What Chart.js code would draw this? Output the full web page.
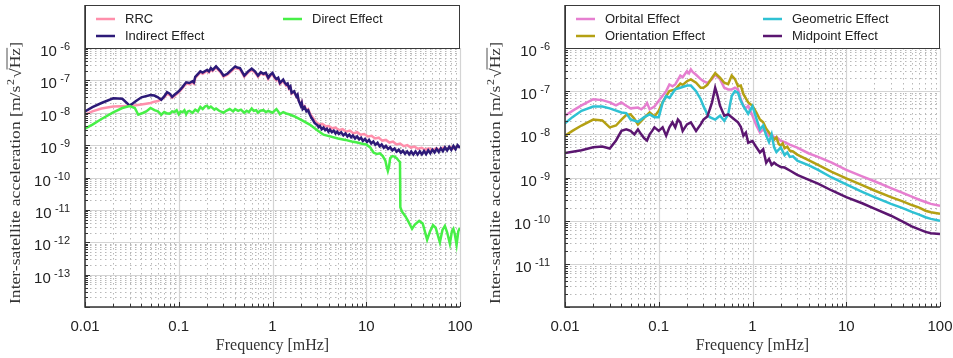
<!DOCTYPE html>
<html>
<head>
<meta charset="utf-8">
<script src="https://cdn.jsdelivr.net/npm/chart.js@4.4.1/dist/chart.umd.min.js"></script>
<style>
  body { margin: 0; background: #fff; }
  #leftChart { position: absolute; left: 0; top: 0; }
  #rightChart { position: absolute; left: 480px; top: 0; }
</style>
</head>
<body>
<canvas id="leftChart" width="476" height="358"></canvas>
<canvas id="rightChart" width="473" height="358"></canvas>
<script>
// x ticks (mHz) and y tick exponents
const xTicks = [0.01, 0.1, 1, 10, 100];
const leftYExps = [-13, -12, -11, -10, -9, -8, -7, -6];
const rightYExps = [-11, -10, -9, -8, -7, -6];

// Left panel: [frequency mHz, acceleration]
const rrcData = [
  [0.01, 8.8e-9], [0.012, 1.1e-8], [0.015, 1.35e-8], [0.02, 1.55e-8], [0.025, 1.6e-8], [0.03, 1.65e-8],
  [0.035, 1.7e-8], [0.04, 1.8e-8], [0.05, 2.0e-8], [0.055, 2.2e-8], [0.06, 2.3e-8], [0.065, 2.6e-8],
  [0.07, 3.0e-8], [0.075, 3.8e-8], [0.08, 3.6e-8], [0.085, 2.9e-8], [0.09, 3.3e-8], [0.1, 4.3e-8],
  [0.11, 5.8e-8], [0.12, 8.0e-8], [0.13, 7.6e-8], [0.14, 8.6e-8], [0.145, 7.9e-8], [0.15, 1.19e-7],
  [0.17, 1.75e-7], [0.18, 1.6e-7], [0.2, 1.95e-7], [0.21, 1.75e-7], [0.22, 2.2e-7], [0.23, 1.95e-7],
  [0.25, 2.5e-7], [0.26, 2.2e-7], [0.28, 1.75e-7], [0.3, 1.3e-7], [0.33, 1.5e-7], [0.37, 2.0e-7],
  [0.4, 2.5e-7], [0.42, 2.3e-7], [0.45, 2.2e-7], [0.5, 1.3e-7], [0.55, 1.75e-7], [0.6, 2.1e-7],
  [0.65, 1.75e-7], [0.7, 1.3e-7], [0.75, 1.65e-7], [0.8, 1.5e-7], [0.85, 1.55e-7], [0.9, 1.1e-7],
  [0.95, 1.4e-7], [1.0, 1.55e-7], [1.05, 1.2e-7], [1.1, 1.0e-7], [1.15, 1.1e-7], [1.2, 7.7e-8],
  [1.3, 9.7e-8], [1.35, 7.8e-8], [1.4, 6.8e-8], [1.45, 7.4e-8], [1.5, 5.5e-8], [1.55, 6.0e-8],
  [1.6, 3.9e-8], [1.7, 4.4e-8], [1.8, 3.1e-8], [1.85, 3.5e-8], [1.9, 2.4e-8], [2.0, 1.8e-8],
  [2.05, 2.1e-8], [2.1, 1.45e-8], [2.2, 1.6e-8], [2.3, 1.2e-8], [2.4, 1.3e-8], [2.5, 9.8e-9],
  [2.6, 8.0e-9], [2.7, 7.0e-9], [2.8, 5.8e-9], [2.9, 5.2e-9],
  [3.0, 4.8e-9], [3.2, 4.3e-9], [3.4, 4.5e-9], [3.7, 3.8e-9], [4.0, 3.9e-9], [4.3, 3.3e-9],
  [4.7, 3.5e-9], [5.1, 2.9e-9], [5.6, 3.1e-9], [6.1, 2.6e-9], [6.7, 2.8e-9], [7.3, 2.3e-9],
  [8.0, 2.5e-9], [8.7, 2.1e-9], [9.5, 2.2e-9], [10.4, 1.85e-9], [11.4, 1.95e-9], [12.4, 1.6e-9],
  [13.6, 1.7e-9], [14.8, 1.38e-9], [16.2, 1.45e-9], [17.7, 1.2e-9], [19.3, 1.28e-9], [21.1, 1.05e-9],
  [23.0, 1.12e-9], [25.1, 9.3e-10], [27.4, 1.0e-9], [29.9, 8.4e-10], [32.7, 9.0e-10], [35.7, 7.7e-10],
  [39.0, 8.3e-10], [42.6, 7.2e-10], [46.5, 8.0e-10], [50.8, 7.0e-10], [55.5, 8.0e-10], [60.6, 7.2e-10],
  [66.2, 8.3e-10], [72.3, 7.5e-10], [79.0, 8.7e-10], [86.3, 7.8e-10], [94.2, 9.2e-10], [100, 8.6e-10]
];

const indirectData = [
  [0.01, 1.1e-8], [0.012, 1.5e-8], [0.015, 2.0e-8], [0.02, 2.8e-8], [0.025, 2.7e-8], [0.03, 1.65e-8],
  [0.035, 2.3e-8], [0.04, 3.0e-8], [0.05, 3.5e-8], [0.055, 3.4e-8], [0.06, 3.0e-8], [0.065, 2.5e-8],
  [0.07, 3.2e-8], [0.075, 4.3e-8], [0.08, 3.9e-8], [0.085, 3.1e-8], [0.09, 3.6e-8], [0.1, 4.6e-8],
  [0.11, 6.3e-8], [0.12, 8.7e-8], [0.13, 8.3e-8], [0.14, 9.4e-8], [0.145, 8.6e-8], [0.15, 1.29e-7],
  [0.17, 1.9e-7], [0.18, 1.75e-7], [0.2, 2.1e-7], [0.21, 1.9e-7], [0.22, 2.4e-7], [0.23, 2.1e-7],
  [0.25, 2.7e-7], [0.26, 2.4e-7], [0.28, 1.9e-7], [0.3, 1.4e-7], [0.33, 1.6e-7], [0.37, 2.2e-7],
  [0.4, 2.7e-7], [0.42, 2.5e-7], [0.45, 2.4e-7], [0.5, 1.4e-7], [0.55, 1.9e-7], [0.6, 2.3e-7],
  [0.65, 1.9e-7], [0.7, 1.4e-7], [0.75, 1.8e-7], [0.8, 1.6e-7], [0.85, 1.7e-7], [0.9, 1.2e-7],
  [0.95, 1.5e-7], [1.0, 1.7e-7], [1.05, 1.3e-7], [1.1, 1.1e-7], [1.15, 1.2e-7], [1.2, 8.3e-8],
  [1.3, 1.05e-7], [1.35, 8.5e-8], [1.4, 7.4e-8], [1.45, 8.0e-8], [1.5, 5.9e-8], [1.55, 6.5e-8],
  [1.6, 4.1e-8], [1.7, 4.6e-8], [1.8, 3.2e-8], [1.85, 3.6e-8], [1.9, 2.4e-8], [2.0, 1.66e-8],
  [2.05, 2.0e-8], [2.1, 1.3e-8], [2.2, 1.5e-8], [2.3, 1.1e-8], [2.4, 1.2e-8], [2.5, 8.8e-9],
  [2.6, 7.0e-9], [2.7, 6.0e-9], [2.8, 4.9e-9], [2.9, 4.5e-9],
  [3.0, 4.2e-9], [3.1, 3.6e-9], [3.2, 3.9e-9], [3.35, 3.1e-9], [3.5, 3.5e-9], [3.65, 2.9e-9],
  [3.8, 3.2e-9], [3.95, 2.6e-9], [4.1, 3.0e-9], [4.3, 2.5e-9], [4.5, 2.8e-9], [4.7, 2.3e-9],
  [4.9, 2.6e-9], [5.1, 2.2e-9], [5.4, 2.5e-9], [5.7, 2.0e-9], [6.0, 2.3e-9], [6.3, 1.85e-9],
  [6.6, 2.1e-9], [6.9, 1.75e-9], [7.2, 2.0e-9], [7.6, 1.6e-9], [8.0, 1.85e-9], [8.4, 1.5e-9],
  [8.8, 1.7e-9], [9.2, 1.35e-9], [9.7, 1.55e-9], [10.2, 1.25e-9], [10.7, 1.45e-9], [11.3, 1.12e-9],
  [11.9, 1.3e-9], [12.5, 1.02e-9], [13.2, 1.18e-9], [13.9, 9.2e-10], [14.6, 1.05e-9], [15.4, 8.3e-10],
  [16.2, 9.5e-10], [17.1, 7.6e-10], [18.0, 8.6e-10], [19.0, 6.9e-10], [20.0, 7.8e-10], [21.1, 6.3e-10],
  [22.2, 7.2e-10], [23.4, 5.8e-10], [24.6, 6.7e-10], [25.9, 5.4e-10], [27.3, 6.4e-10], [28.7, 5.2e-10],
  [30.2, 6.3e-10], [31.8, 5.1e-10], [33.5, 6.4e-10], [35.3, 5.1e-10], [37.2, 6.4e-10], [39.2, 5.2e-10],
  [41.3, 6.6e-10], [43.5, 5.3e-10], [45.8, 6.9e-10], [48.2, 5.6e-10], [50.8, 7.2e-10], [53.5, 5.9e-10],
  [56.3, 7.7e-10], [59.3, 6.2e-10], [62.4, 8.0e-10], [65.7, 6.5e-10], [69.2, 8.5e-10], [72.9, 6.9e-10],
  [76.7, 8.9e-10], [80.8, 7.1e-10], [85.1, 9.4e-10], [89.6, 7.5e-10], [94.3, 1.0e-9], [100, 8.2e-10]
];

const directData = [
  [0.01, 3.2e-9], [0.012, 4.3e-9], [0.015, 6.4e-9], [0.02, 1.03e-8], [0.025, 1.4e-8], [0.03, 1.6e-8],
  [0.034, 1.4e-8], [0.037, 8.7e-9], [0.042, 1.0e-8], [0.045, 1.1e-8], [0.05, 1.4e-8], [0.055, 1.2e-8],
  [0.06, 1.1e-8], [0.065, 8.7e-9], [0.07, 1.05e-8], [0.075, 9.5e-9], [0.08, 9.4e-9], [0.085, 1.1e-8],
  [0.09, 1.05e-8], [0.095, 1.2e-8], [0.1, 9.0e-9], [0.105, 1.1e-8], [0.11, 1.05e-8], [0.115, 1.2e-8],
  [0.12, 9.0e-9], [0.125, 1.1e-8], [0.13, 1.15e-8], [0.14, 1.0e-8], [0.15, 1.25e-8], [0.16, 1.1e-8],
  [0.17, 1.5e-8], [0.18, 1.3e-8], [0.19, 1.55e-8], [0.2, 1.65e-8], [0.21, 1.4e-8], [0.22, 1.55e-8],
  [0.24, 1.25e-8], [0.25, 1.35e-8], [0.27, 1.15e-8], [0.3, 1.0e-8], [0.32, 1.15e-8], [0.35, 1.3e-8],
  [0.38, 1.1e-8], [0.4, 1.3e-8], [0.43, 1.15e-8], [0.46, 1.25e-8], [0.5, 1.0e-8], [0.53, 1.15e-8],
  [0.56, 1.05e-8], [0.6, 1.35e-8], [0.63, 1.15e-8], [0.67, 1.2e-8], [0.7, 1.0e-8], [0.74, 1.15e-8],
  [0.8, 1.2e-8], [0.85, 1.05e-8], [0.9, 1.15e-8], [1.0, 1.0e-8], [1.05, 1.15e-8], [1.1, 1.3e-8],
  [1.15, 1.1e-8], [1.2, 9.0e-9], [1.3, 1.05e-8], [1.4, 9.5e-9], [1.5, 9.0e-9], [1.7, 7.8e-9],
  [2.0, 6.1e-9], [2.5, 4.3e-9], [3.0, 2.9e-9], [3.5, 2.1e-9], [4.0, 1.9e-9], [5.0, 1.6e-9],
  [6.0, 1.45e-9], [7.0, 1.3e-9], [8.0, 1.2e-9], [9.0, 1.1e-9], [10, 1.05e-9], [11, 8.5e-10],
  [12, 5.8e-10], [13, 5.3e-10], [14, 5.6e-10], [15, 4.6e-10], [16, 3.3e-10], [16.5, 2.2e-10],
  [17, 1.6e-10], [17.5, 2.2e-10], [18, 4.0e-10], [19, 4.6e-10], [20, 4.4e-10], [21, 4.0e-10],
  [22, 3.4e-10], [22.9, 3.0e-10], [23.1, 1.2e-11], [24, 9.0e-12], [26, 6.5e-12], [28, 4.5e-12],
  [30.8, 2.6e-12], [33, 3.5e-12], [36.7, 4.6e-12], [40, 3.8e-12], [44.6, 1.2e-12], [48, 2.2e-12],
  [51.5, 3.4e-12], [55, 2.8e-12], [61, 1.0e-12], [65, 2.4e-12], [69, 3.2e-12], [73, 2.0e-12],
  [78, 9.0e-13], [82, 2.2e-12], [85, 2.6e-12], [88, 1.8e-12], [92, 8.5e-13], [96, 2.2e-12], [100, 2.8e-12]
];

// Right panel
const orbitalData = [
  [0.01, 2.7e-8], [0.012, 3.5e-8], [0.015, 4.7e-8], [0.02, 6.5e-8], [0.025, 6.2e-8], [0.03, 5.5e-8],
  [0.035, 4.7e-8], [0.04, 5.5e-8], [0.045, 4.6e-8], [0.05, 4.0e-8], [0.06, 4.2e-8], [0.065, 3.8e-8],
  [0.07, 4.3e-8], [0.075, 5.3e-8], [0.08, 3.8e-8], [0.09, 4.4e-8], [0.1, 6.0e-8], [0.11, 7.8e-8],
  [0.12, 1.0e-7], [0.13, 1.43e-7], [0.14, 1.3e-7], [0.15, 1.43e-7], [0.17, 2.3e-7], [0.18, 2.1e-7],
  [0.2, 2.9e-7], [0.21, 2.6e-7], [0.22, 3.2e-7], [0.23, 2.8e-7], [0.25, 2.4e-7], [0.28, 1.9e-7],
  [0.3, 1.7e-7], [0.33, 1.55e-7], [0.37, 1.9e-7], [0.4, 2.4e-7], [0.45, 1.9e-7], [0.5, 1.2e-7],
  [0.55, 1.1e-7], [0.6, 1.1e-7], [0.65, 1.2e-7], [0.7, 1.1e-7], [0.75, 6.5e-8], [0.8, 4.6e-8],
  [0.85, 4.0e-8], [0.9, 4.6e-8], [1.0, 2.7e-8], [1.1, 1.6e-8], [1.2, 1.1e-8], [1.3, 1.3e-8],
  [1.4, 1.1e-8], [1.5, 9.3e-9], [1.6, 9.8e-9], [1.7, 8.5e-9], [1.8, 8.6e-9], [2.0, 7.1e-9],
  [2.2, 6.6e-9], [2.5, 5.8e-9], [3, 4.9e-9], [4, 3.6e-9], [5, 3.0e-9], [7, 2.2e-9],
  [10, 1.5e-9], [15, 1.05e-9], [20, 8.2e-10], [30, 5.7e-10], [40, 4.4e-10], [50, 3.6e-10],
  [60, 3.05e-10], [70, 2.7e-10], [80, 2.45e-10], [100, 2.2e-10]
];

const orientationData = [
  [0.01, 9.3e-9], [0.012, 1.2e-8], [0.015, 1.6e-8], [0.02, 2.2e-8], [0.025, 2.1e-8], [0.03, 1.45e-8],
  [0.035, 1.6e-8], [0.04, 2.2e-8], [0.045, 2.8e-8], [0.05, 2.9e-8], [0.055, 2.3e-8], [0.06, 1.7e-8],
  [0.07, 2.4e-8], [0.08, 3.2e-8], [0.09, 2.6e-8], [0.1, 3.5e-8], [0.11, 5.5e-8], [0.12, 7.7e-8],
  [0.13, 1.0e-7], [0.15, 1.1e-7], [0.17, 1.5e-7], [0.18, 1.4e-7], [0.2, 1.7e-7], [0.22, 1.87e-7],
  [0.25, 1.57e-7], [0.28, 1.2e-7], [0.3, 1.2e-7], [0.33, 1.4e-7], [0.37, 2.05e-7], [0.4, 2.6e-7],
  [0.45, 2.05e-7], [0.5, 1.57e-7], [0.55, 1.45e-7], [0.6, 2.3e-7], [0.65, 1.9e-7], [0.7, 1.3e-7],
  [0.75, 1.35e-7], [0.8, 8.5e-8], [0.9, 5.5e-8], [1.0, 4.6e-8], [1.1, 3.2e-8], [1.2, 2.2e-8],
  [1.3, 1.9e-8], [1.4, 1.35e-8], [1.5, 1.1e-8], [1.6, 9.0e-9], [1.7, 7.5e-9], [1.8, 8.5e-9],
  [1.9, 6.0e-9], [2.0, 5.5e-9], [2.1, 6.2e-9], [2.2, 4.8e-9], [2.35, 5.2e-9], [2.5, 4.2e-9],
  [2.7, 4.0e-9], [3, 3.4e-9], [4, 2.5e-9], [5, 1.95e-9], [7, 1.35e-9], [10, 9.5e-10],
  [15, 6.6e-10], [20, 5.0e-10], [30, 3.5e-10], [40, 2.8e-10], [50, 2.3e-10], [60, 2.0e-10],
  [70, 1.7e-10], [80, 1.57e-10], [100, 1.45e-10]
];

const geometricData = [
  [0.01, 1.8e-8], [0.012, 2.5e-8], [0.015, 3.5e-8], [0.02, 4.4e-8], [0.025, 4.4e-8], [0.03, 4.0e-8],
  [0.04, 3.2e-8], [0.045, 3.1e-8], [0.05, 2.2e-8], [0.06, 1.95e-8], [0.07, 2.5e-8], [0.08, 2.9e-8],
  [0.09, 2.5e-8], [0.1, 2.5e-8], [0.11, 5.4e-8], [0.12, 7.7e-8], [0.13, 7.0e-8], [0.15, 1.1e-7],
  [0.17, 1.2e-7], [0.2, 1.35e-7], [0.22, 1.35e-7], [0.25, 1.0e-7], [0.28, 6.5e-8], [0.3, 4.5e-8],
  [0.33, 2.9e-8], [0.35, 2.5e-8], [0.4, 2.2e-8], [0.45, 2.7e-8], [0.5, 2.05e-8], [0.55, 2.9e-8],
  [0.6, 7.7e-8], [0.65, 1.0e-7], [0.7, 9.2e-8], [0.75, 6.0e-8], [0.8, 4.5e-8], [0.9, 3.0e-8],
  [1.0, 4.5e-8], [1.1, 2.3e-8], [1.2, 1.3e-8], [1.3, 1.6e-8], [1.4, 9.3e-9], [1.5, 6.6e-9],
  [1.6, 1.0e-8], [1.7, 5.0e-9], [1.8, 3.9e-9], [2.0, 5.0e-9], [2.2, 3.3e-9], [2.35, 3.8e-9],
  [2.5, 3.0e-9], [2.7, 3.1e-9], [3, 2.45e-9], [4, 1.9e-9], [5, 1.5e-9], [7, 1.0e-9],
  [10, 6.9e-10], [15, 4.6e-10], [20, 3.5e-10], [30, 2.45e-10], [40, 1.95e-10], [50, 1.6e-10],
  [60, 1.38e-10], [70, 1.2e-10], [80, 1.1e-10], [100, 1.0e-10]
];

const midpointData = [
  [0.01, 3.7e-9], [0.015, 4.3e-9], [0.02, 5.0e-9], [0.025, 5.2e-9], [0.03, 4.7e-9], [0.035, 7.2e-9],
  [0.04, 1.2e-8], [0.045, 1.3e-8], [0.05, 1.2e-8], [0.055, 1.0e-8], [0.06, 1.3e-8], [0.065, 1.0e-8],
  [0.07, 8.1e-9], [0.075, 7.2e-9], [0.08, 1.0e-8], [0.085, 1.2e-8], [0.09, 1.45e-8], [0.1, 1.2e-8],
  [0.11, 1.45e-8], [0.12, 9.3e-9], [0.13, 1.45e-8], [0.14, 1.9e-8], [0.15, 1.45e-8], [0.16, 2.2e-8],
  [0.17, 1.9e-8], [0.18, 1.2e-8], [0.2, 1.7e-8], [0.22, 1.9e-8], [0.25, 1.2e-8], [0.28, 1.7e-8],
  [0.3, 2.2e-8], [0.33, 2.6e-8], [0.35, 3.8e-8], [0.37, 5.5e-8], [0.4, 1.2e-7], [0.42, 8.5e-8],
  [0.45, 4.6e-8], [0.5, 2.7e-8], [0.55, 2.9e-8], [0.6, 2.5e-8], [0.7, 1.9e-8], [0.75, 1.5e-8],
  [0.8, 9.3e-9], [0.85, 1.1e-8], [0.9, 6.4e-9], [1.0, 7.0e-9], [1.1, 5.0e-9], [1.2, 3.8e-9],
  [1.3, 4.5e-9], [1.4, 2.2e-9], [1.5, 2.7e-9], [1.6, 1.95e-9], [1.7, 2.2e-9], [1.8, 2.0e-9],
  [2.0, 1.75e-9], [2.2, 1.7e-9], [2.5, 1.45e-9], [3, 1.15e-9], [4, 8.8e-10], [5, 7.2e-10],
  [7, 5.0e-10], [10, 3.5e-10], [15, 2.5e-10], [20, 1.9e-10], [30, 1.3e-10], [40, 9.5e-11],
  [50, 7.4e-11], [60, 6.3e-11], [70, 5.5e-11], [80, 5.1e-11], [100, 4.9e-11]
];

const leftSeries = [
  { label: 'RRC', color: '#ff8fab', data: rrcData },
  { label: 'Indirect Effect', color: '#2d1a78', data: indirectData },
  { label: 'Direct Effect', color: '#47ef47', data: directData }
];
const rightSeries = [
  { label: 'Orbital Effect', color: '#e67fd0', data: orbitalData },
  { label: 'Orientation Effect', color: '#b4a013', data: orientationData },
  { label: 'Geometric Effect', color: '#2fc1d3', data: geometricData },
  { label: 'Midpoint Effect', color: '#5b1670', data: midpointData }
];

const SANS = '"Liberation Sans", Arial, sans-serif';
const SERIF = '"Liberation Serif", "Times New Roman", serif';

function decadesOf(min, max) {
  const out = [];
  for (let k = Math.round(Math.log10(min)); k <= Math.round(Math.log10(max)); k++) out.push(k);
  return out;
}

// grid, axes, legend box, y labels and y title
const decorPlugin = {
  id: 'decor',
  beforeDatasetsDraw(chart, args, opts) {
    const { ctx, chartArea: a, scales: { x, y } } = chart;
    ctx.save();
    // minor dotted grid
    ctx.strokeStyle = '#b8b8b8';
    ctx.lineWidth = 1;
    ctx.setLineDash([1.5, 3.5]);
    ctx.beginPath();
    const xd = decadesOf(x.min, x.max);
    for (let i = 0; i < xd.length - 1; i++) {
      for (let m = 2; m <= 9; m++) {
        const px = Math.round(x.getPixelForValue(m * Math.pow(10, xd[i]))) + 0.5;
        ctx.moveTo(px, a.top); ctx.lineTo(px, a.bottom);
      }
    }
    const yd = decadesOf(y.min, y.max);
    for (let i = 0; i < yd.length - 1; i++) {
      for (let m = 2; m <= 9; m++) {
        const py = Math.round(y.getPixelForValue(m * Math.pow(10, yd[i]))) + 0.5;
        ctx.moveTo(a.left, py); ctx.lineTo(a.right, py);
      }
    }
    ctx.stroke();
    // major solid grid
    ctx.setLineDash([]);
    ctx.strokeStyle = '#d4d4d4';
    ctx.lineWidth = 1.2;
    ctx.beginPath();
    xd.forEach(k => {
      const px = Math.round(x.getPixelForValue(Math.pow(10, k))) + 0.5;
      ctx.moveTo(px, a.top); ctx.lineTo(px, a.bottom);
    });
    yd.forEach(k => {
      const py = Math.round(y.getPixelForValue(Math.pow(10, k))) + 0.5;
      ctx.moveTo(a.left, py); ctx.lineTo(a.right, py);
    });
    ctx.stroke();
    ctx.restore();
  },
  afterDatasetsDraw(chart, args, opts) {
    const { ctx, chartArea: a, scales: { x, y } } = chart;
    ctx.save();
    ctx.setLineDash([]);

    // legend box
    const boxTop = 5;
    ctx.fillStyle = '#fff';
    ctx.fillRect(a.left, boxTop, a.right - a.left, a.top - boxTop);
    ctx.strokeStyle = '#3a3a3a';
    ctx.lineWidth = 1;
    ctx.strokeRect(a.left + 0.5, boxTop + 0.5, a.right - a.left - 1, a.top - boxTop);
    ctx.font = '13px ' + SANS;
    ctx.textBaseline = 'middle';
    ctx.textAlign = 'left';
    opts.series.forEach((s, i) => {
      const col = Math.floor(i / 2), row = i % 2;
      const ly = 19 + row * 17;
      const sx = a.left + 11 + col * 187;
      ctx.strokeStyle = s.color;
      ctx.lineWidth = 2.5;
      ctx.beginPath(); ctx.moveTo(sx, ly); ctx.lineTo(sx + 19, ly); ctx.stroke();
      ctx.fillStyle = '#222';
      ctx.fillText(s.label, a.left + 40 + col * 187, ly);
    });

    // axes with inward ticks
    ctx.strokeStyle = '#333';
    ctx.lineWidth = 1.5;
    ctx.beginPath();
    ctx.moveTo(a.left, boxTop); ctx.lineTo(a.left, a.bottom); ctx.lineTo(a.right, a.bottom);
    ctx.stroke();
    ctx.lineWidth = 1;
    ctx.beginPath();
    const xd = decadesOf(x.min, x.max);
    xd.forEach((k, i) => {
      for (let m = 1; m <= 9; m++) {
        if (i === xd.length - 1 && m > 1) break;
        const px = Math.round(x.getPixelForValue(m * Math.pow(10, k))) + 0.5;
        ctx.moveTo(px, a.bottom); ctx.lineTo(px, a.bottom - (m === 1 ? 5 : 3));
      }
    });
    const yd = decadesOf(y.min, y.max);
    yd.forEach((k, i) => {
      for (let m = 1; m <= 9; m++) {
        if (i === yd.length - 1 && m > 1) break;
        const py = Math.round(y.getPixelForValue(m * Math.pow(10, k))) + 0.5;
        ctx.moveTo(a.left, py); ctx.lineTo(a.left + (m === 1 ? 5 : 3), py);
      }
    });
    ctx.stroke();

    // y tick labels 10^k
    ctx.fillStyle = '#222';
    ctx.textAlign = 'right';
    ctx.textBaseline = 'alphabetic';
    const labelRight = a.left - 15;
    opts.yExps.forEach(e => {
      const py = y.getPixelForValue(Math.pow(10, e));
      const sup = String(e);
      ctx.font = '11px ' + SANS;
      const w = ctx.measureText(sup).width;
      ctx.fillText(sup, labelRight, py + 2);
      ctx.font = '15px ' + SANS;
      ctx.fillText('10', labelRight - w - 3.3, py + 8);
    });

    // y title: Inter-satellite acceleration [m/s^2 sqrt(Hz)], stretched to the reference length
    ctx.translate(15, 173);
    ctx.rotate(-Math.PI / 2);
    ctx.fillStyle = '#333';
    ctx.textAlign = 'left';
    const main = 'Inter-satellite acceleration [m/s';
    ctx.font = '15.5px ' + SERIF;
    const w1 = ctx.measureText(main).width;
    const wRoot = ctx.measureText('\u221A').width;
    const wHz = ctx.measureText('Hz').width;
    const wEnd = ctx.measureText(']').width;
    ctx.font = '10.5px ' + SERIF;
    const w2 = ctx.measureText('2').width;
    const total = w1 + w2 + 1.5 + wRoot + wHz + wEnd;
    ctx.scale(262 / total, 1);
    let tx = -total / 2;
    const base = 5;
    ctx.font = '15.5px ' + SERIF;
    ctx.fillText(main, tx, base); tx += w1;
    ctx.font = '10.5px ' + SERIF;
    ctx.fillText('2', tx + 0.5, base - 6.5); tx += w2 + 1.5;
    ctx.font = '15.5px ' + SERIF;
    ctx.fillText('\u221A', tx, base + 1); tx += wRoot;
    ctx.fillText('Hz', tx, base);
    ctx.strokeStyle = '#333';
    ctx.lineWidth = 0.8;
    ctx.beginPath(); ctx.moveTo(tx - 1, base - 13); ctx.lineTo(tx + wHz, base - 13); ctx.stroke();
    tx += wHz;
    ctx.fillText(']', tx, base);
    ctx.restore();
  }
};

function makeChart(canvasId, series, yMin, yExps, padRight) {
  const n = series.length;
  return new Chart(document.getElementById(canvasId), {
    type: 'line',
    data: {
      datasets: series.map((s, i) => ({
        label: s.label,
        data: s.data.map(p => ({ x: p[0], y: p[1] })),
        borderColor: s.color,
        backgroundColor: s.color,
        borderWidth: 2.5,
        pointRadius: 0,
        tension: 0,
        fill: false,
        order: n - i
      }))
    },
    options: {
      responsive: false,
      animation: false,
      devicePixelRatio: 1,
      layout: { padding: { top: 48, right: padRight, left: 0, bottom: 0 } },
      plugins: {
        legend: { display: false },
        tooltip: { enabled: false },
        decor: { series: series, yExps: yExps }
      },
      scales: {
        x: {
          type: 'logarithmic',
          min: 0.01,
          max: 100,
          grid: { display: false, drawTicks: false },
          border: { display: false },
          afterBuildTicks: s => { s.ticks = xTicks.map(v => ({ value: v })); },
          afterFit: s => { s.height = 51; s.paddingLeft = 0; s.paddingRight = 0; },
          ticks: {
            font: { family: SANS, size: 15 },
            color: '#222',
            padding: 11,
            maxRotation: 0,
            autoSkip: false,
            callback: v => String(v)
          },
          title: {
            display: true,
            text: 'Frequency [mHz]',
            font: { family: SERIF, size: 16, lineHeight: 1.2 },
            color: '#333',
            padding: { top: 0, bottom: 3 }
          }
        },
        y: {
          type: 'logarithmic',
          min: yMin,
          max: 1e-6,
          grid: { display: false },
          border: { display: false },
          ticks: { display: false },
          afterFit: s => { s.width = 85; s.paddingTop = 0; s.paddingBottom = 0; }
        }
      }
    },
    plugins: [decorPlugin]
  });
}

makeChart('leftChart', leftSeries, 1e-14, leftYExps, 16);
makeChart('rightChart', rightSeries, 1e-12, rightYExps, 13);
</script>
</body>
</html>
